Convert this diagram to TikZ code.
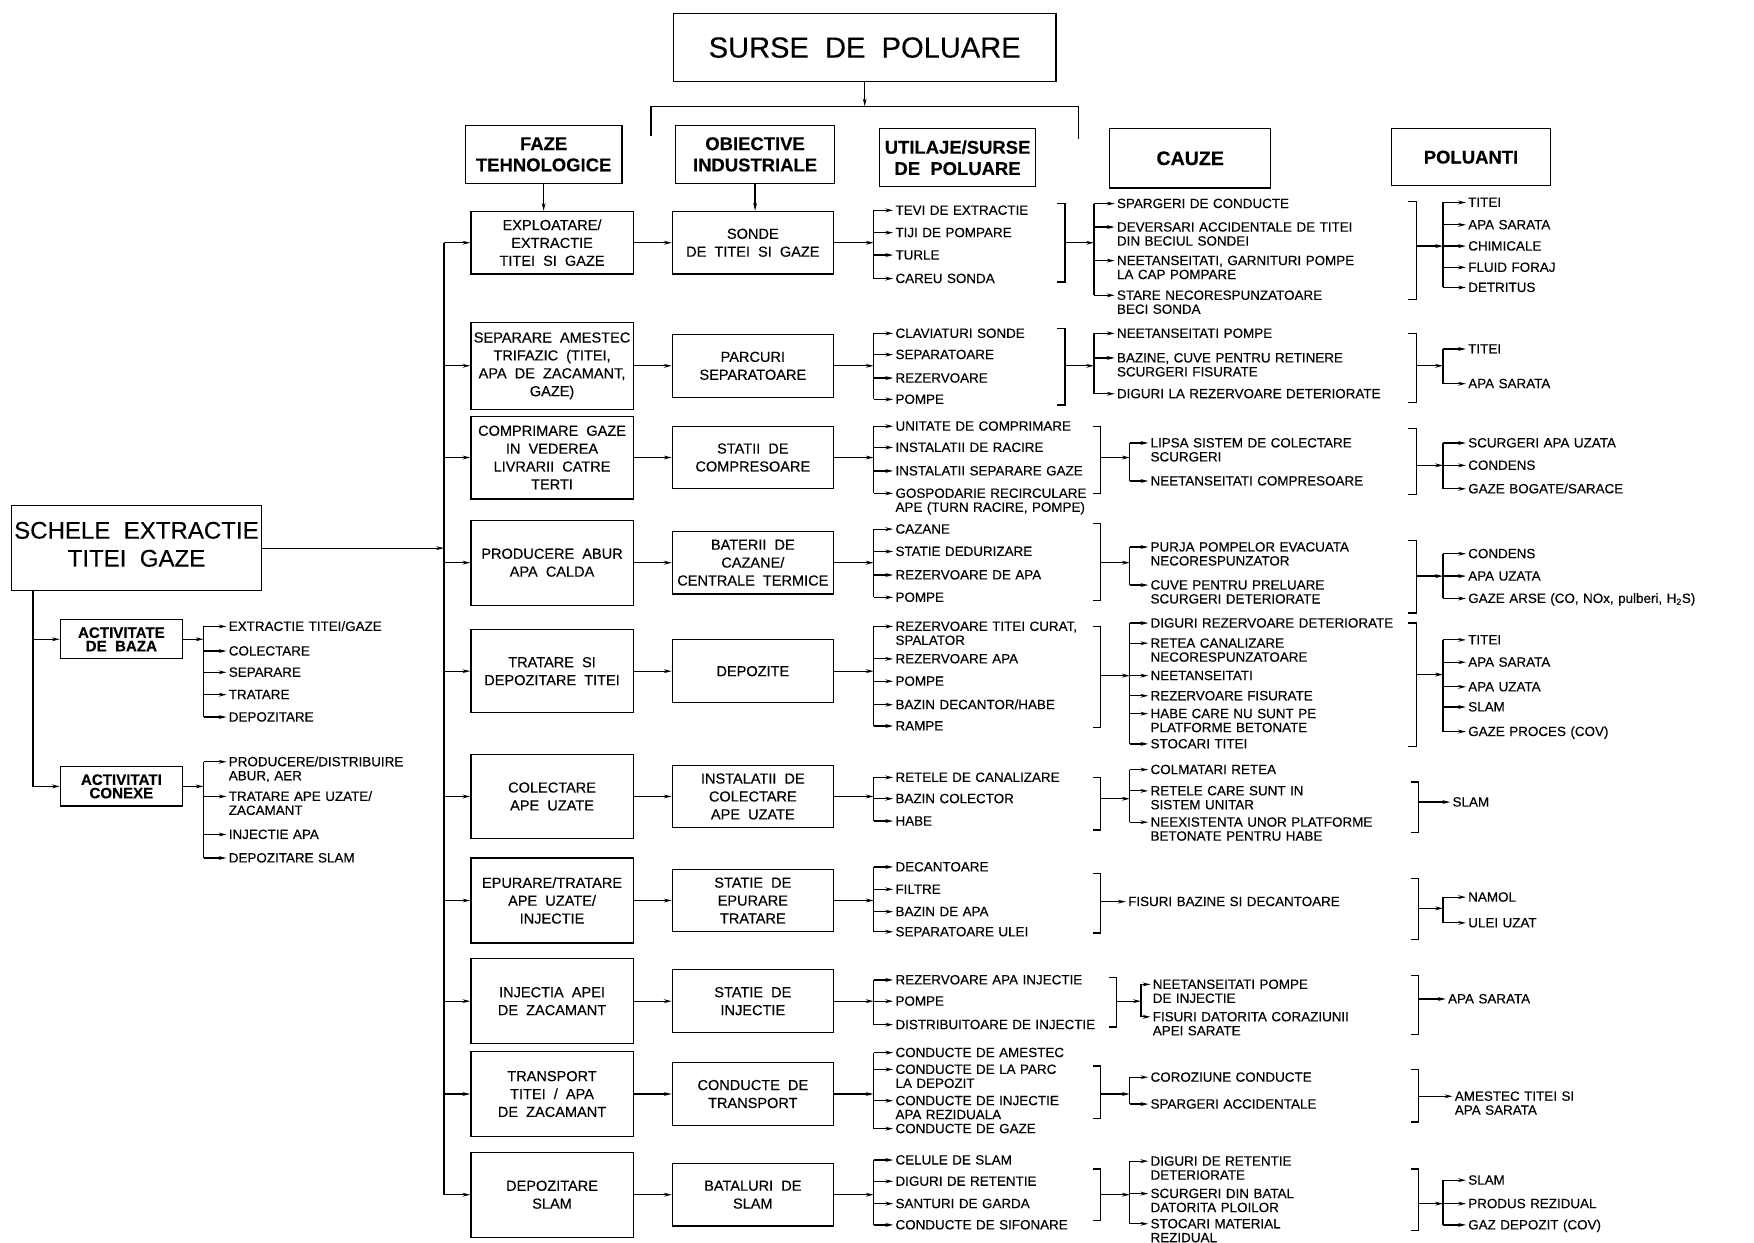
\documentclass[tikz,border=0pt]{standalone}
\usepackage{fontspec}
\setmainfont[WordSpace=2, FakeBold=0.3]{Liberation Sans}
\usetikzlibrary{arrows.meta}

\newcommand\fanout[6]{%
  \draw (#2,#3) -- (#2,#4);
  \foreach \itemy/\itemtxt [count=\i] in {#6}{%
    \coordinate (#1j\i) at (#2,\itemy);
    \node[item] (#1\i) at (#5,\itemy+4) {\itemtxt};
    \draw[->, shorten >=1.5pt] (#1j\i) -- ([yshift=4pt]#1\i.base west);
  }}
\newcommand\closer[5]{%
  \draw (#2-7,#3) -- (#2,#3) -- (#2,#4) -- (#2-7,#4);
  \coordinate (#1) at (#2,#5);}

\begin{document}
\begin{tikzpicture}[x=1pt, y=-1pt, line width=1.1pt, >={Stealth[length=7pt,width=3.4pt]},
  bigbox/.style={draw, inner sep=1pt, align=center},
  phase/.style={draw, minimum width=145pt, inner sep=1pt, align=center, font=\fontsize{13}{16}\selectfont},
  plant/.style={draw, minimum width=144pt, minimum height=56pt, inner sep=1pt, align=center, font=\fontsize{13}{16}\selectfont},
  head/.style={draw, minimum width=140pt, minimum height=52pt, inner sep=1pt, align=center, font=\fontsize{16.5}{19}\selectfont\bfseries},
  activ/.style={draw, minimum width=109pt, minimum height=35pt, inner sep=1pt, align=center, font=\fontsize{13.5}{12}\selectfont\bfseries},
  item/.style={anchor=base west, inner sep=0pt, text width=320pt, align=left, font=\fontsize{12}{12.5}\selectfont}]
\useasboundingbox (0,0) rectangle (1568,1111);

\node[bigbox, minimum width=342pt, minimum height=61pt, font=\fontsize{26}{30}\selectfont] (surse) at (773,42.5) {SURSE DE POLUARE};
\coordinate (brkc) at (773,95);
\coordinate (brkl) at (582,122);
\coordinate (brkr) at (964,124);
\draw (brkl) |- (brkc) -| (brkr);
\draw[->] (surse) -- (brkc);

\node[head] (faze) at (486,138) {FAZE\\TEHNOLOGICE};
\node[head, minimum width=142pt] (obiective) at (675,138) {OBIECTIVE\\INDUSTRIALE};
\node[head] (utilaje) at (856,141) {UTILAJE/SURSE\\DE POLUARE};
\node[head, minimum width=144pt, minimum height=53pt, font=\fontsize{17.5}{19}\selectfont\bfseries] (cauze) at (1064,141.5) {CAUZE};
\node[head, minimum width=142pt, minimum height=51pt] (poluanti) at (1315,140.5) {POLUANTI};

\node[bigbox, minimum width=224pt, minimum height=76pt, font=\fontsize{21.5}{25}\selectfont] (schele) at (122,490) {SCHELE EXTRACTIE\\TITEI GAZE\rule[-7pt]{0pt}{0pt}};
\node[activ] (baza) at (108.5,571.5) {ACTIVITATE\\DE BAZA};
\node[activ] (conexe) at (108.5,703) {ACTIVITATI\\CONEXE};
\coordinate (drop) at ([xshift=20pt]schele.south west);
\draw[->] (drop) |- (conexe);
\draw[->] (drop |- baza) -- (baza);
\coordinate (bzin) at (182,571.5);
\draw[->] (baza) -- (bzin);
\fanout{bz-}{182}{560}{641}{204}{560/{EXTRACTIE TITEI/GAZE}, 582/{COLECTARE}, 601/{SEPARARE}, 621/{TRATARE}, 641/{DEPOZITARE}}
\coordinate (cxin) at (182,703);
\draw[->] (conexe) -- (cxin);
\fanout{cx-}{182}{681}{767}{204}{681/{PRODUCERE/DISTRIBUIRE\\ABUR, AER}, 712/{TRATARE APE UZATE/\\ZACAMANT}, 746/{INJECTIE APA}, 767/{DEPOZITARE SLAM}}

\node[phase, minimum height=56pt] (ph1) at (493.5,217) {EXPLOATARE/\\EXTRACTIE\\TITEI SI GAZE};
\node[phase, minimum height=78pt] (ph2) at (493.5,327) {SEPARARE AMESTEC\\TRIFAZIC (TITEI,\\APA DE ZACAMANT,\\GAZE)};
\node[phase, minimum height=74pt] (ph3) at (493.5,409) {COMPRIMARE GAZE\\IN VEDEREA\\LIVRARII CATRE\\TERTI};
\node[phase, minimum height=76pt] (ph4) at (493.5,503) {PRODUCERE ABUR\\APA CALDA};
\node[phase, minimum height=74pt] (ph5) at (493.5,600) {TRATARE SI\\DEPOZITARE TITEI};
\node[phase, minimum height=75pt] (ph6) at (493.5,712) {COLECTARE\\APE UZATE};
\node[phase, minimum height=76pt] (ph7) at (493.5,805) {EPURARE/TRATARE\\APE UZATE/\\INJECTIE};
\node[phase, minimum height=76pt] (ph8) at (493.5,895) {INJECTIA APEI\\DE ZACAMANT};
\node[phase, minimum height=76pt] (ph9) at (493.5,978) {TRANSPORT\\TITEI / APA\\DE ZACAMANT};
\node[phase, minimum height=76pt] (ph10) at (493.5,1068) {DEPOZITARE\\SLAM};

\node[plant] (pl1) at (673,217) {SONDE\\DE TITEI SI GAZE};
\node[plant] (pl2) at (673,327) {PARCURI\\SEPARATOARE};
\node[plant] (pl3) at (673,409) {STATII DE\\COMPRESOARE};
\node[plant] (pl4) at (673,503) {BATERII DE\\CAZANE/\\CENTRALE TERMICE};
\node[plant] (pl5) at (673,600) {DEPOZITE};
\node[plant] (pl6) at (673,712) {INSTALATII DE\\COLECTARE\\APE UZATE};
\node[plant] (pl7) at (673,805) {STATIE DE\\EPURARE\\TRATARE};
\node[plant] (pl8) at (673,895) {STATIE DE\\INJECTIE};
\node[plant] (pl9) at (673,978) {CONDUCTE DE\\TRANSPORT};
\node[plant] (pl10) at (673,1068) {BATALURI DE\\SLAM};

\draw[->] (faze.south) -- (faze.south |- ph1.north);
\draw[->] (obiective.south) -- (obiective.south |- pl1.north);

\coordinate (spin) at (397,490);
\draw[->] (schele) -- (spin);
\foreach \r/\m in {1/217, 2/327, 3/409, 4/503, 5/600, 6/712, 7/805, 8/895, 9/978, 10/1068}{
  \coordinate (sp\r) at (397,\m);
  \coordinate (uin\r) at (781,\m);
  \draw[->] (sp\r) -- (ph\r);
  \draw[->] (ph\r) -- (pl\r);
  \draw[->] (pl\r) -- (uin\r);
}
\draw (sp1) -- (sp10);

\fanout{u1-}{781}{188}{249}{800}{188/{TEVI DE EXTRACTIE}, 208/{TIJI DE POMPARE}, 228/{TURLE}, 249/{CAREU SONDA}}
\closer{ua1}{952}{182}{252}{217}
\coordinate (cin1) at (978,217);
\draw[->] (ua1) -- (cin1);
\fanout{c1-}{978}{182}{264}{998}{182/{SPARGERI DE CONDUCTE}, 203/{DEVERSARI ACCIDENTALE DE TITEI\\DIN BECIUL SONDEI}, 233/{NEETANSEITATI, GARNITURI POMPE\\LA CAP POMPARE}, 264/{STARE NECORESPUNZATOARE\\BECI SONDA}}
\closer{cb1}{1266}{180}{268}{220}
\coordinate (pin1) at (1290,220);
\draw[->] (cb1) -- (pin1);
\fanout{p1-}{1290}{181}{257}{1312}{181/{TITEI}, 201/{APA SARATA}, 220/{CHIMICALE}, 239/{FLUID FORAJ}, 257/{DETRITUS}}

\fanout{u2-}{781}{298}{357}{800}{298/{CLAVIATURI SONDE}, 317/{SEPARATOARE}, 338/{REZERVOARE}, 357/{POMPE}}
\closer{ua2}{952}{294}{362}{327}
\coordinate (cin2) at (978,327);
\draw[->] (ua2) -- (cin2);
\fanout{c2-}{978}{298}{352}{998}{298/{NEETANSEITATI POMPE}, 320/{BAZINE, CUVE PENTRU RETINERE\\SCURGERI FISURATE}, 352/{DIGURI LA REZERVOARE DETERIORATE}}
\closer{cb2}{1266}{298}{360}{327}
\coordinate (pin2) at (1290,327);
\draw[->] (cb2) -- (pin2);
\fanout{p2-}{1290}{312}{343}{1312}{312/{TITEI}, 343/{APA SARATA}}

\fanout{u3-}{781}{381}{441}{800}{381/{UNITATE DE COMPRIMARE}, 400/{INSTALATII DE RACIRE}, 421/{INSTALATII SEPARARE GAZE}, 441/{GOSPODARIE RECIRCULARE\\APE (TURN RACIRE, POMPE)}}
\closer{ua3}{984}{381}{441}{409}
\coordinate (cin3) at (1010,409);
\draw[->] (ua3) -- (cin3);
\fanout{c3-}{1010}{396}{430}{1028}{396/{LIPSA SISTEM DE COLECTARE\\SCURGERI}, 430/{NEETANSEITATI COMPRESOARE}}
\closer{cb3}{1266}{383}{442}{416}
\coordinate (pin3) at (1290,416);
\draw[->] (cb3) -- (pin3);
\fanout{p3-}{1290}{396}{437}{1312}{396/{SCURGERI APA UZATA}, 416/{CONDENS}, 437/{GAZE BOGATE/SARACE}}

\fanout{u4-}{781}{473}{534}{800}{473/{CAZANE}, 493/{STATIE DEDURIZARE}, 514/{REZERVOARE DE APA}, 534/{POMPE}}
\closer{ua4}{984}{468}{537}{503}
\coordinate (cin4) at (1010,503);
\draw[->] (ua4) -- (cin4);
\fanout{c4-}{1010}{489}{523}{1028}{489/{PURJA POMPELOR EVACUATA\\NECORESPUNZATOR}, 523/{CUVE PENTRU PRELUARE\\SCURGERI DETERIORATE}}
\closer{cb4}{1266}{483}{548}{515}
\coordinate (pin4) at (1290,515);
\draw[->] (cb4) -- (pin4);
\fanout{p4-}{1290}{495}{535}{1312}{495/{CONDENS}, 515/{APA UZATA}, 535/{GAZE ARSE (CO, NOx, pulberi, H\textsubscript{2}S)}}

\fanout{u5-}{781}{560}{649}{800}{560/{REZERVOARE TITEI CURAT,\\SPALATOR}, 589/{REZERVOARE APA}, 609/{POMPE}, 630/{BAZIN DECANTOR/HABE}, 649/{RAMPE}}
\closer{ua5}{984}{560}{650}{604}
\coordinate (cin5) at (1010,604);
\draw[->] (ua5) -- (cin5);
\fanout{c5-}{1010}{557}{665}{1028}{557/{DIGURI REZERVOARE DETERIORATE}, 575/{RETEA CANALIZARE\\NECORESPUNZATOARE}, 604/{NEETANSEITATI}, 622/{REZERVOARE FISURATE}, 638/{HABE CARE NU SUNT PE\\PLATFORME BETONATE}, 665/{STOCARI TITEI}}
\closer{cb5}{1266}{557}{667}{603}
\coordinate (pin5) at (1290,603);
\draw[->] (cb5) -- (pin5);
\fanout{p5-}{1290}{572}{654}{1312}{572/{TITEI}, 592/{APA SARATA}, 614/{APA UZATA}, 632/{SLAM}, 654/{GAZE PROCES (COV)}}

\fanout{u6-}{781}{695}{734}{800}{695/{RETELE DE CANALIZARE}, 714/{BAZIN COLECTOR}, 734/{HABE}}
\closer{ua6}{984}{695}{742}{714}
\coordinate (cin6) at (1010,714);
\draw[->] (ua6) -- (cin6);
\fanout{c6-}{1010}{688}{735}{1028}{688/{COLMATARI RETEA}, 707/{RETELE CARE SUNT IN\\SISTEM UNITAR}, 735/{NEEXISTENTA UNOR PLATFORME\\BETONATE PENTRU HABE}}
\closer{cb6}{1268}{699}{744}{717}
\node[item] (p6-1) at (1298,721) {SLAM};
\draw[->, shorten >=1.5pt] (cb6) -- ([yshift=4pt]p6-1.base west);

\fanout{u7-}{781}{775}{833}{800}{775/{DECANTOARE}, 795/{FILTRE}, 815/{BAZIN DE APA}, 833/{SEPARATOARE ULEI}}
\closer{ua7}{984}{781}{834}{806}
\node[item] (c7-1) at (1008,810) {FISURI BAZINE SI DECANTOARE};
\draw[->, shorten >=1.5pt] (ua7) -- ([yshift=4pt]c7-1.base west);
\closer{cb7}{1268}{785}{840}{812}
\coordinate (pin7) at (1290,812);
\draw[->] (cb7) -- (pin7);
\fanout{p7-}{1290}{802}{825}{1312}{802/{NAMOL}, 825/{ULEI UZAT}}

\fanout{u8-}{781}{876}{916}{800}{876/{REZERVOARE APA INJECTIE}, 895/{POMPE}, 916/{DISTRIBUITOARE DE INJECTIE}}
\closer{ua8}{998}{874}{918}{895}
\coordinate (cin8) at (1020,895);
\draw[->] (ua8) -- (cin8);
\fanout{c8-}{1020}{880}{909}{1030}{880/{NEETANSEITATI POMPE\\DE INJECTIE}, 909/{FISURI DATORITA CORAZIUNII\\APEI SARATE}}
\closer{cb8}{1268}{872}{925}{893}
\node[item] (p8-1) at (1294,897) {APA SARATA};
\draw[->, shorten >=1.5pt] (cb8) -- ([yshift=4pt]p8-1.base west);

\fanout{u9-}{781}{941}{1009}{800}{941/{CONDUCTE DE AMESTEC}, 956/{CONDUCTE DE LA PARC\\LA DEPOZIT}, 984/{CONDUCTE DE INJECTIE\\APA REZIDUALA}, 1009/{CONDUCTE DE GAZE}}
\closer{ua9}{984}{953}{1000}{978}
\coordinate (cin9) at (1010,978);
\draw[->] (ua9) -- (cin9);
\fanout{c9-}{1010}{963}{987}{1028}{963/{COROZIUNE CONDUCTE}, 987/{SPARGERI ACCIDENTALE}}
\closer{cb9}{1268}{956}{1003}{980}
\node[item] (p9-1) at (1300,984) {AMESTEC TITEI SI\\APA SARATA};
\draw[->, shorten >=1.5pt] (cb9) -- ([yshift=4pt]p9-1.base west);

\fanout{u10-}{781}{1037}{1095}{800}{1037/{CELULE DE SLAM}, 1056/{DIGURI DE RETENTIE}, 1076/{SANTURI DE GARDA}, 1095/{CONDUCTE DE SIFONARE}}
\closer{ua10}{984}{1045}{1091}{1068}
\coordinate (cin10) at (1010,1068);
\draw[->] (ua10) -- (cin10);
\fanout{c10-}{1010}{1038}{1094}{1028}{1038/{DIGURI DE RETENTIE\\DETERIORATE}, 1067/{SCURGERI DIN BATAL\\DATORITA PLOILOR}, 1094/{STOCARI MATERIAL\\REZIDUAL}}
\closer{cb10}{1268}{1045}{1100}{1076}
\coordinate (pin10) at (1290,1076);
\draw[->] (cb10) -- (pin10);
\fanout{p10-}{1290}{1055}{1095}{1312}{1055/{SLAM}, 1076/{PRODUS REZIDUAL}, 1095/{GAZ DEPOZIT (COV)}}
\end{tikzpicture}
\end{document}
